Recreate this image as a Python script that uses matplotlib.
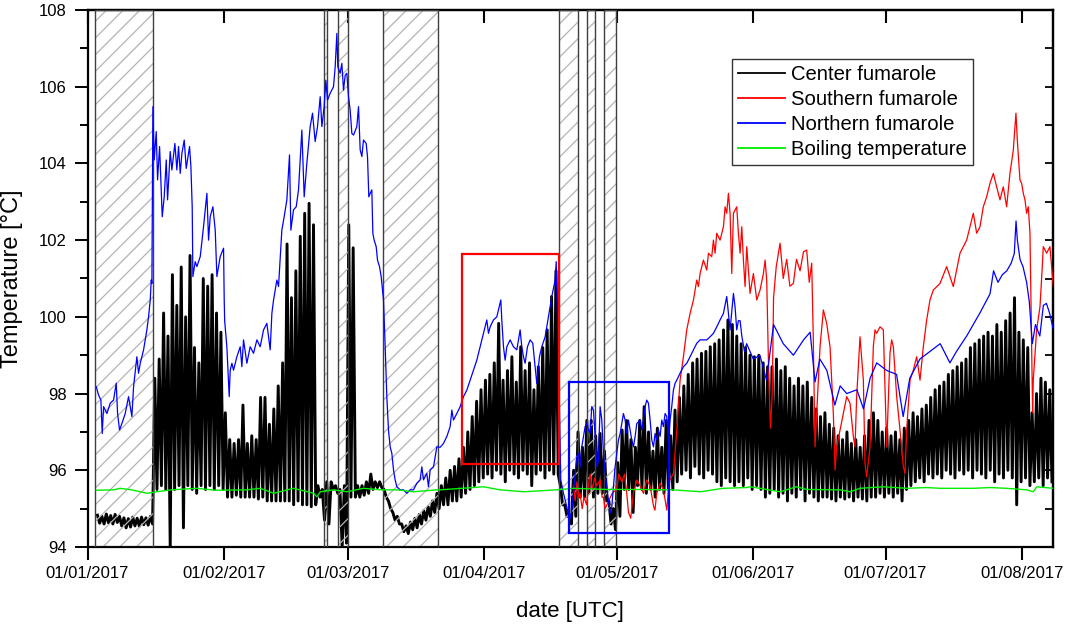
import numpy as np
import matplotlib
matplotlib.use("Agg")
import matplotlib.pyplot as plt
import matplotlib.dates as mdates
from matplotlib.patches import Rectangle
from matplotlib.lines import Line2D
import datetime as dt

# ---------------- data (days since 01/01/2017 00:00 UTC, temperatures in °C) ----------------
start_date = dt.datetime(2017, 1, 1)

# Center fumarole: daily maxima / minima, starting at day index 2
black_start = 2
black_hi = [
    94.83, 94.80, 94.86, 94.82, 94.85, 94.80, 94.76, 94.74, 94.78, 94.75, 94.78, 94.76, 94.80,   # d2-14
    98.4, 98.9, 100.1, 99.5, 101.1, 100.3, 101.3, 100.0, 101.6, 99.2, 98.8, 101.0, 100.8, 101.1, 100.1, 99.6,  # d15-30
    97.5, 96.8, 96.7, 96.8, 97.7, 96.7, 96.9, 96.8, 97.9, 97.9, 97.2, 97.6, 98.2, 98.8,  # d31-44
    101.9, 100.5, 101.2, 102.1, 102.7, 102.96, 102.4,  # d45-51
    95.6, 95.5, 95.7, 95.7, 95.6, 95.5, 95.6, 102.4, 101.8,  # d52-60
    95.6, 95.6, 95.7, 95.9, 95.7, 95.7, 95.5, 95.2, 94.9, 94.8, 94.6, 94.55, 94.65, 94.75,  # d61-74
    94.85, 94.95, 95.05, 95.2, 95.4, 95.6, 95.8, 96.0, 96.1, 96.3,  # d75-84
    96.6, 97.0, 97.4, 97.8, 98.1, 98.35, 98.5, 98.8, 99.83, 98.35, 98.6, 98.96, 98.3, 99.22,  # d85-98
    98.6, 98.8, 98.1, 98.7, 99.2, 99.66, 100.53, 101.2,  # d99-106
    95.6, 95.1, 94.8, 96.0, 97.0, 96.6, 97.3, 97.3, 96.9, 96.96, 96.5, 95.2, 95.0,  # d107-119
    96.2, 97.05, 97.3, 96.8, 96.6, 97.3, 97.66, 97.0, 96.5, 97.1, 96.6, 97.3, 96.9,  # d120-132
    97.57, 97.9, 98.2, 98.5, 98.8, 98.9, 99.05, 99.1, 99.22, 99.3, 99.4, 99.66, 99.92,  # d133-145
    99.8, 99.5, 99.3, 99.2, 99.0, 98.96, 99.0, 98.8, 98.7, 98.7, 98.9, 98.6, 98.7, 98.4,  # d146-159
    98.2, 98.4, 98.2, 98.3, 97.9, 97.6, 97.4, 97.5, 97.2, 97.1, 96.9, 96.8, 97.0, 96.7,  # d160-173
    96.8, 96.6, 96.9, 97.3, 97.5, 97.3, 97.0, 97.1, 96.9, 97.0, 96.8, 97.1, 97.3, 97.5,  # d174-187
    97.4, 97.6, 97.7, 97.9, 98.1, 98.2, 98.3, 98.5, 98.6, 98.7, 98.8, 98.9, 99.2, 99.3,  # d188-201
    99.4, 99.5, 99.6, 99.5, 99.8, 99.6, 99.9, 100.1, 100.5, 99.6, 99.4, 99.2, 97.5, 98.0,  # d202-215
    98.4, 98.3, 98.1,  # d216-218
]
black_lo = [
    94.62, 94.60, 94.63, 94.60, 94.64, 94.55, 94.50, 94.52, 94.55, 94.54, 94.58, 94.57, 94.60,
    95.5, 95.6, 95.5, 94.0, 95.5, 95.6, 94.5, 95.6, 95.5, 95.4, 95.6, 95.5, 95.6, 95.5, 95.6, 95.5,
    95.3, 95.3, 95.35, 95.3, 95.3, 95.3, 95.3, 95.25, 95.3, 95.2, 95.2, 95.2, 95.2, 95.2,
    95.2, 95.1, 95.2, 95.1, 95.1, 95.05, 95.1,
    95.3, 94.7, 94.6, 95.5, 95.4, 94.0, 94.1, 95.3, 95.3,
    95.3, 95.35, 95.4, 95.5, 95.55, 95.55, 95.3, 95.0, 94.7, 94.6, 94.4, 94.35, 94.45, 94.5,
    94.6, 94.7, 94.8, 94.9, 95.0, 95.1, 95.1, 95.2, 95.2, 95.3,
    95.4, 95.5, 95.6, 95.7, 95.8, 95.9, 95.8, 96.0, 95.9, 95.7, 96.0, 95.9, 95.8, 96.0,
    95.9, 95.6, 95.9, 96.0, 95.8, 96.0, 95.9, 95.9,
    95.1, 94.8, 94.6, 94.8, 95.3, 95.3, 95.4, 95.3, 95.4, 95.4, 95.2, 94.6, 94.45,
    94.8, 95.5, 95.5, 94.9, 95.6, 95.5, 95.4, 95.5, 95.3, 95.5, 95.4, 95.5, 95.5,
    95.7, 95.9, 96.0, 95.8, 96.1, 95.9, 95.8, 96.0, 95.9, 95.7, 95.6, 95.8, 95.7,
    95.6, 95.7, 95.6, 95.8, 95.5, 95.6, 95.5, 95.3, 95.4, 95.5, 95.3, 95.4, 95.2, 95.4,
    95.3, 95.5, 95.2, 95.4, 95.3, 95.2, 95.3, 95.3, 95.25, 95.2, 95.3, 95.25, 95.3, 95.2,
    95.3, 95.25, 95.2, 95.3, 95.3, 95.4, 95.3, 95.4, 95.3, 95.4, 95.2, 95.5, 95.6, 95.7,
    95.8, 95.7, 95.9, 95.8, 95.9, 95.8, 96.0, 95.9, 95.8, 96.0, 95.9, 96.0, 95.8, 96.0,
    95.9, 95.8, 96.0, 95.7, 95.9, 95.8, 96.0, 95.8, 95.1, 95.7, 95.8, 95.6, 95.7, 95.8,
    95.6, 95.8, 95.7,
]

# Northern fumarole
north_day = [
    1.97, 2.50, 3.03, 3.33, 3.64, 4.39, 5.15, 5.90, 6.51, 6.81, 7.26, 7.79, 8.55, 9.30, 10.06, 10.44,
    11.19, 11.57, 11.95, 12.71, 13.46, 13.84, 14.22, 14.45, 14.60, 14.82, 15.12, 15.58, 15.88, 16.34,
    16.94, 17.39, 17.85, 18.15, 18.75, 19.13, 19.81, 20.26, 20.64, 21.02, 21.40, 21.93, 22.38, 23.14,
    23.44, 23.74, 23.89, 24.42, 24.80, 25.56, 26.31, 27.07, 27.45, 27.82, 28.43, 28.96, 29.34, 30.09,
    30.85, 31.00, 31.10, 31.60, 32.13, 32.36, 32.74, 33.11, 33.87, 34.63, 35.00, 35.38, 36.14, 36.89,
    37.65, 38.41, 39.16, 39.92, 40.67, 41.43, 41.81, 42.19, 42.56, 42.94, 43.32, 44.07, 44.60, 45.21,
    45.81, 46.12, 46.72, 47.33, 47.85, 48.61, 49.14, 49.74, 50.50, 51.03, 51.63, 52.16, 52.77, 53.15,
    53.67, 54.05, 54.43, 55.03, 55.79, 56.17, 56.55, 56.77, 57.30, 57.68, 58.06, 58.44, 58.81, 59.19,
    59.57, 59.95, 60.33, 61.08, 61.46, 61.84, 62.22, 62.59, 63.20, 63.50, 63.80, 64.11, 64.48, 64.71,
    65.01, 65.47, 65.77, 66.22, 66.60, 66.90, 67.13, 67.51, 67.88, 68.26, 68.64, 69.02, 69.40, 69.77,
    70.15, 70.91, 71.66, 72.42, 73.18, 73.93, 74.69, 75.44, 75.82, 76.20, 76.95, 77.33, 77.71, 78.47,
    78.84, 79.22, 79.98, 80.74, 81.49, 82.25, 82.63, 83.00, 83.76, 84.52, 85.27, 86.03, 86.78, 87.54,
    88.29, 89.05, 89.81, 90.56, 90.94, 91.32, 92.07, 92.83, 93.21, 93.74, 93.96, 94.34, 94.72, 95.10,
    95.85, 96.61, 97.37, 98.12, 98.50, 98.88, 99.25, 99.78, 100.39, 100.99, 101.30, 101.90, 102.50,
    103.03, 103.79, 104.55, 105.30, 106.06, 106.30, 106.80, 107.34, 107.95, 108.70, 109.31, 109.84,
    110.21, 110.59, 110.97, 111.35, 111.73, 112.10, 112.48, 112.86, 113.24, 113.62, 113.99, 114.37,
    114.75, 115.13, 115.51, 115.88, 116.26, 116.64, 117.02, 117.40, 117.77, 118.15, 118.53, 118.91,
    119.29, 119.66, 120.04, 120.42, 120.80, 121.17, 121.55, 121.93, 122.31, 122.69, 123.06, 123.44,
    123.82, 124.20, 124.58, 125.33, 125.71, 126.09, 126.47, 126.84, 127.22, 127.60, 127.98, 128.36,
    128.73, 129.11, 129.49, 129.87, 130.24, 130.62, 131.00, 131.38, 131.76, 132.13, 132.51, 132.89,
    133.27, 133.65, 134.40, 135.16, 135.91, 136.67, 137.43, 138.18, 138.94, 139.69, 140.45, 141.20,
    141.96, 142.72, 143.47, 144.23, 144.98, 145.36, 145.74, 146.50, 146.87, 147.25, 147.63, 148.01,
    148.40, 149.00, 149.50, 151.00, 152.50, 154.00, 155.60, 157.80, 160.10, 162.40, 163.90, 165.00,
    166.10, 167.70, 169.50, 170.70, 172.20, 174.50, 176.00, 177.50, 179.00, 181.30, 183.50, 185.00,
    186.50, 188.80, 191.10, 193.40, 195.60, 197.10, 199.40, 200.90, 202.40, 204.70, 205.50, 206.50,
    207.50, 208.50, 209.50, 210.20, 210.60, 210.90, 211.50, 212.20, 213.00, 213.60, 214.30, 215.00,
    216.00, 216.80, 217.50, 218.20, 219.00,
]
north_temp = [
    98.18, 97.96, 97.83, 96.96, 97.66, 97.48, 97.75, 97.83, 98.27, 97.48, 97.05, 97.22, 97.48, 97.92, 97.40, 98.18,
    98.96, 98.53, 98.79, 99.14, 99.66, 100.00, 100.44, 100.96, 100.87, 105.48, 104.09, 104.83, 103.57, 104.44,
    102.61, 103.13, 104.09, 103.05, 104.31, 103.83, 104.52, 103.83, 104.44, 103.74, 104.26, 104.61, 103.87, 104.44,
    103.92, 102.87, 101.05, 101.44, 101.31, 101.57, 102.35, 103.22, 102.00, 102.61, 102.87, 102.26, 101.05, 101.57,
    101.79, 100.44, 99.90, 99.22, 97.92, 98.61, 98.79, 98.61, 98.96, 99.22, 98.70, 99.40, 98.79, 99.22,
    99.05, 99.40, 99.22, 99.66, 99.83, 99.14, 100.09, 100.44, 100.70, 100.96, 100.79, 102.26, 102.61, 103.05,
    104.22, 102.26, 102.79, 102.87, 103.31, 104.87, 103.13, 104.00, 104.96, 105.31, 104.57, 104.96, 105.74, 104.96,
    105.48, 106.17, 105.65, 105.83, 106.00, 106.52, 107.39, 106.52, 106.35, 106.61, 105.91, 106.30, 106.35, 105.74,
    105.39, 104.78, 104.74, 104.96, 105.48, 104.35, 104.18, 104.61, 104.52, 104.18, 103.13, 103.22, 103.31, 102.18,
    102.00, 101.83, 101.48, 101.31, 101.05, 100.70, 100.44, 99.22, 97.92, 97.05, 96.61, 96.44, 96.01, 95.75,
    95.57, 95.49, 95.49, 95.40, 95.49, 95.49, 95.66, 95.75, 96.09, 95.75, 95.92, 95.57, 96.01, 96.09,
    96.35, 96.61, 96.60, 96.70, 96.88, 97.14, 97.57, 97.31, 97.48, 97.66, 97.92, 98.09, 98.35, 98.61,
    98.87, 99.22, 99.57, 99.92, 99.57, 99.74, 99.92, 100.00, 100.18, 100.44, 99.92, 99.22, 98.87, 99.22,
    99.40, 99.22, 99.14, 99.66, 99.22, 98.96, 98.79, 99.22, 99.40, 99.31, 98.96, 98.26, 98.96,
    99.22, 99.48, 100.00, 100.53, 100.96, 101.44, 99.00, 95.75, 95.40, 95.05, 94.70, 94.96,
    95.40, 95.92, 96.35, 96.44, 96.09, 96.61, 96.88, 97.14, 97.22, 97.05, 96.96, 97.66,
    97.57, 96.88, 96.09, 96.27, 97.66, 97.31, 96.44, 95.92, 95.57, 95.23, 94.88, 95.05,
    95.57, 96.09, 96.44, 96.79, 96.96, 97.22, 97.48, 97.31, 96.96, 97.31, 97.05, 96.79,
    96.61, 96.88, 97.22, 97.31, 97.05, 97.31, 97.66, 97.83, 97.75, 97.31, 96.79, 96.61,
    96.96, 96.79, 97.05, 96.88, 97.31, 97.14, 97.48, 97.40, 96.70, 97.31, 97.66, 98.09,
    98.27, 98.35, 98.53, 98.70, 98.79, 98.96, 99.14, 99.31, 99.40, 99.40, 99.40, 99.48,
    99.57, 99.74, 99.92, 100.09, 100.53, 100.09, 99.66, 100.61, 100.26, 99.66, 99.90, 99.90,
    99.50, 99.10, 99.30, 98.90, 99.00, 98.35, 99.80, 99.30, 99.00, 99.40, 99.60, 98.30,
    98.90, 98.60, 97.70, 98.20, 98.00, 98.10, 97.60, 98.40, 98.80, 98.60, 98.50, 97.40,
    98.40, 98.90, 99.10, 99.30, 98.80, 99.10, 99.50, 99.80, 100.10, 100.60, 101.20, 100.90,
    101.10, 101.20, 101.40, 101.65, 102.50, 102.00, 101.50, 101.30, 100.90, 100.40, 99.30, 99.80,
    99.50, 100.30, 100.35, 100.10, 99.70,
]

# Southern fumarole
south_day = [
    110.2, 110.6, 111.0, 111.4, 111.7, 112.2, 112.6, 113.2, 113.6, 114.0, 114.5, 115.0, 115.5, 116.3,
    116.7, 117.0, 117.4, 118.2, 119.0, 120.0, 120.5, 121.2, 121.8, 122.3, 122.7, 123.2, 123.8, 124.6,
    125.3, 126.1, 126.8, 127.6, 128.4, 128.7, 129.1, 129.9, 130.6, 131.4, 131.8, 132.1, 132.9, 133.65,
    134.4, 135.16, 135.91, 136.67, 137.43, 138.18, 138.56, 138.94, 139.69, 140.45, 140.83, 141.58,
    141.96, 142.34, 142.72, 143.47, 144.23, 144.61, 144.98, 145.36, 145.74, 146.12, 146.50, 147.25,
    147.63, 148.01, 148.39, 148.76, 149.14, 149.52, 150.27, 151.03, 151.79, 152.54, 153.30, 153.68,
    154.05, 154.5, 154.9, 155.3, 155.6, 156.2, 157.07, 157.8, 158.58, 159.3, 160.09, 160.8, 161.61,
    162.4, 163.12, 163.7, 164.25, 164.6, 165.01, 165.38, 166.14, 166.90, 167.65, 168.41, 169.16,
    169.54, 169.92, 170.68, 171.43, 172.19, 172.94, 173.70, 174.08, 174.45, 175.21, 175.97, 176.34,
    176.72, 177.48, 178.23, 178.61, 178.99, 179.75, 180.50, 181.26, 182.01, 182.39, 182.77, 183.53,
    184.28, 185.04, 185.41, 185.79, 186.55, 187.30, 188.06, 188.82, 189.57, 190.33, 191.08, 191.84,
    193.35, 194.86, 196.37, 197.89, 199.40, 200.91, 201.67, 202.42, 203.18, 203.93, 204.69, 205.45,
    206.20, 206.96, 207.71, 208.47, 209.22, 209.98, 210.58, 210.89, 211.49, 211.87, 212.25, 212.63,
    213.00, 213.38, 213.76, 213.99, 214.36, 214.51, 215.27, 216.03, 216.5, 216.78, 217.54, 218.29,
    218.67, 219.05,
]
south_temp = [
    95.6, 95.2, 95.7, 95.3, 95.4, 95.0, 95.3, 95.1, 95.6, 95.9, 95.5, 95.8, 95.6, 95.75,
    95.3, 95.3, 95.0, 95.2, 95.4, 95.5, 95.9, 95.7, 95.9, 95.4, 94.9, 94.75, 95.4, 95.75,
    95.6, 95.4, 95.75, 95.6, 95.05, 94.96, 95.4, 95.66, 95.5, 94.96, 95.6, 95.75, 95.92, 97.05,
    98.35, 98.96, 99.66, 100.09, 100.44, 100.96, 100.79, 101.13, 101.48, 101.22, 101.66, 101.57,
    102.00, 101.66, 102.18, 102.00, 102.35, 102.87, 102.70, 103.22, 102.70, 101.13, 102.70, 102.87,
    102.18, 101.66, 102.35, 101.48, 100.79, 101.83, 100.61, 101.13, 100.44, 100.70, 101.13, 101.48,
    100.96, 98.5, 97.1, 98.0, 100.5, 101.3, 101.92, 101.0, 101.5, 100.8, 100.87, 101.5, 101.2,
    101.7, 101.74, 100.9, 101.4, 99.5, 96.61, 97.48, 99.22, 100.18, 99.83, 99.22, 97.48,
    96.01, 96.61, 97.05, 97.48, 97.92, 97.75, 96.88, 96.61, 97.92, 99.48, 98.35, 96.18,
    95.83, 96.61, 99.22, 99.66, 99.57, 99.74, 99.66, 96.61, 99.05, 99.40, 99.22, 97.92,
    97.05, 96.09, 95.92, 97.05, 98.35, 98.61, 98.96, 98.35, 99.22, 99.92, 100.44, 100.70,
    100.87, 101.31, 100.79, 101.66, 102.00, 102.70, 102.18, 102.35, 102.87, 103.13, 103.48, 103.74,
    103.39, 103.05, 103.39, 102.87, 103.74, 104.35, 105.31, 104.61, 103.57, 103.48, 103.22, 103.05,
    102.70, 102.87, 102.18, 100.44, 97.50, 98.35, 99.66, 100.26, 101.20, 101.83, 101.66, 101.83,
    101.31, 100.79,
]

# Boiling temperature
boil_day = [
    2.0, 5.9, 7.4, 10.0, 13.5, 15.7, 19.0, 24.8, 29.0, 36.1, 39.2, 42.2, 46.7, 51.3, 52.0, 52.8,
    55.8, 58.8, 62.6, 66.4, 70.2, 74.0, 79.2, 80.0, 89.8, 93.6, 98.9, 106.4, 110.2, 117.8, 125.3,
    132.9, 139.0, 144.2, 149.5, 150.3, 152.5, 157.1, 160.8, 163.1, 170.7, 173.0, 175.2, 180.5,
    185.8, 190.3, 193.4, 200.9, 204.7, 208.5, 213.0, 214.5, 215.3, 219.0,
]
boil_temp = [
    95.48, 95.49, 95.53, 95.49, 95.40, 95.44, 95.49, 95.53, 95.48, 95.49, 95.53, 95.40, 95.53, 95.40, 95.31, 95.44,
    95.49, 95.44, 95.53, 95.49, 95.49, 95.44, 95.49, 95.49, 95.57, 95.49, 95.44, 95.49, 95.53, 95.50, 95.50,
    95.49, 95.44, 95.53, 95.55, 95.57, 95.53, 95.44, 95.57, 95.50, 95.49, 95.44, 95.53, 95.57,
    95.53, 95.55, 95.53, 95.53, 95.55, 95.53, 95.49, 95.44, 95.57, 95.53,
]

# excluded (hatched) periods, in days
gap_start = [1.75, 53.7, 56.7, 67.0, 107.0, 113.2, 117.2]
gap_end = [14.9, 54.4, 59.0, 79.4, 111.2, 115.2, 119.9]

# highlighted boxes: (day start, day end, T low, T high)
red_box = (85.0, 107.0, 96.16, 101.64)
blue_box = (109.3, 131.8, 94.37, 98.30)

series_labels = ["Center fumarole", "Southern fumarole", "Northern fumarole", "Boiling temperature"]
series_colors = ["#000000", "#ff0000", "#0000ff", "#00ee00"]
tick_months = [1, 2, 3, 4, 5, 6, 7, 8]
tick_labels = ["01/01/2017", "01/02/2017", "01/03/2017", "01/04/2017",
               "01/05/2017", "01/06/2017", "01/07/2017", "01/08/2017"]

# ---------------- plotting ----------------
plt.rcParams['font.family'] = ['Liberation Sans', 'DejaVu Sans']
plt.rcParams['hatch.linewidth'] = 0.9

base = mdates.date2num(start_date)

fig = plt.figure(figsize=(10.65, 6.25), dpi=100)
ax = fig.add_axes([0.0822, 0.1248, 0.9066, 0.8592])

# center fumarole: daily max / min alternating
bd = np.arange(black_start, black_start + len(black_hi))
bt = np.empty(2 * len(bd))
bv = np.empty(2 * len(bd))
bt[0::2] = bd + 0.25
bt[1::2] = bd + 0.75
bv[0::2] = black_hi
bv[1::2] = black_lo
ax.plot(base + bt, bv, color=series_colors[0], lw=2.1, zorder=2)

# hatched excluded periods
for s, e in zip(gap_start, gap_end):
    ax.add_patch(Rectangle((base + s, 94), e - s, 14, facecolor='none', edgecolor='#b4b4b4',
                           hatch='//', lw=0, zorder=2.5))
    ax.add_patch(Rectangle((base + s, 94), e - s, 14, facecolor='none', edgecolor='#404040',
                           lw=1.0, zorder=2.6))

ax.plot(base + np.array(south_day), south_temp, color=series_colors[1], lw=0.9, zorder=3)
ax.plot(base + np.array(north_day), north_temp, color=series_colors[2], lw=0.9, zorder=3.2)
ax.plot(base + np.array(boil_day), boil_temp, color=series_colors[3], lw=1.0, zorder=3.4)

for (s, e, lo, hi), c in ((red_box, 'red'), (blue_box, 'blue')):
    ax.add_patch(Rectangle((base + s, lo), e - s, hi - lo, fill=False, edgecolor=c, lw=1.6, zorder=4))

ax.set_xlim(base + 0.0, base + 219.0)
ax.set_ylim(94, 108)

xt = [mdates.date2num(dt.datetime(2017, m, 1)) for m in tick_months]
ax.set_xticks(xt)
ax.set_xticklabels(tick_labels, fontsize=12)
ax.set_yticks(np.arange(94, 109, 2))
ax.set_yticks(np.arange(95, 108, 2), minor=True)
ax.set_yticklabels([str(v) for v in range(94, 109, 2)], fontsize=12)
ax.tick_params(axis='x', which='major', direction='out', length=9, width=1.5, pad=5)
ax.tick_params(axis='y', which='major', direction='out', length=9.5, width=1.4, pad=5.5)
ax.tick_params(axis='y', which='minor', direction='out', length=5.5, width=1.4)
for sp in ax.spines.values():
    sp.set_linewidth(1.6)

# inward ticks on the top and right
top = ax.secondary_xaxis('top')
top.set_xticks(xt)
top.set_xticklabels([])
top.tick_params(direction='in', length=9, width=1.5)
top.spines['top'].set_linewidth(1.6)
right = ax.secondary_yaxis('right')
right.set_yticks(np.arange(94, 109, 1))
right.set_yticklabels([])
right.tick_params(direction='in', length=6, width=1.3)
right.spines['right'].set_linewidth(1.6)

ax.set_xlabel("date [UTC]", fontsize=16)
ax.xaxis.set_label_coords(0.5, -0.101)
ax.set_ylabel("Temperature [°C]", fontsize=17)
ax.yaxis.set_label_coords(-0.0668, 0.5)

handles = [Line2D([], [], color=c, lw=1.3) for c in series_colors]
leg = ax.legend(handles, series_labels, loc='upper left', bbox_to_anchor=(0.6675, 0.9088),
                borderaxespad=0, fontsize=14.6, frameon=True, fancybox=False, shadow=False,
                handlelength=2.3, handletextpad=0.3, labelspacing=0.3, borderpad=0.3)
leg.get_frame().set_edgecolor('black')
leg.get_frame().set_linewidth(1.0)
leg.set_zorder(10)

fig.savefig("out.png", dpi=100)
